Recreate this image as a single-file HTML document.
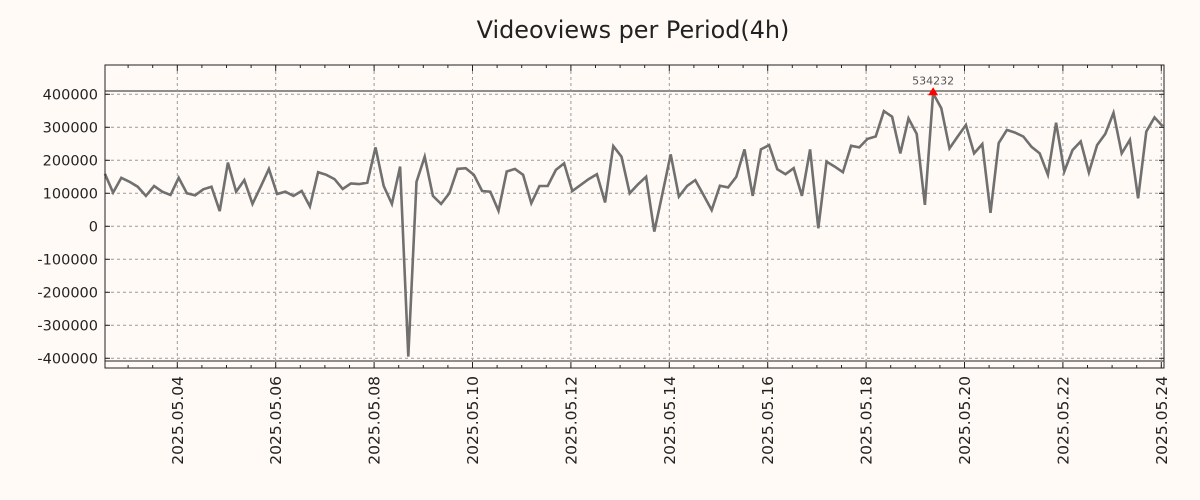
<!DOCTYPE html>
<html><head><meta charset="utf-8"><style>
html,body{margin:0;padding:0;background:#fffaf6;}
svg{display:block;font-family:"DejaVu Sans","Liberation Sans",sans-serif;}
</style></head><body>
<svg width="1200" height="500" xmlns="http://www.w3.org/2000/svg">
<rect width="1200" height="500" fill="#fffaf6"/>
<text x="633" y="38" font-size="23.9" text-anchor="middle" fill="#222">Videoviews per Period(4h)</text>
<g id="grid"></g>
<g id="axes"></g>
<g id="series"></g>
<rect x="105" y="65" width="1059" height="303" fill="none" stroke="#222" stroke-width="1"/>
</svg>
<script>
const values = [159,102,147,135,120,92,122,105,95,147,100,94,112,120,46,193,105,140,68,120,174,98,105,92,107,60,164,156,143,113,130,128,132,
239,122,68,181,-395,135,211,92,68,100,174,176,156,107,105,47,166,174,156,70,122,122,171,191,107,125,143,158,72,243,211,
100,127,150,-16,100,218,90,122,140,95,49,123,118,150,233,92,233,246,173,158,176,92,233,-6,196,181,164,244,239,265,272,349,
332,221,327,280,65,403,358,236,272,307,221,249,41,252,292,284,272,241,221,156,314,166,231,257,163,246,280,344,221,262,85,287,330,303];
const yTicks = [-400000,-300000,-200000,-100000,0,100000,200000,300000,400000];
const xTickLabels = ["2025.05.04","2025.05.06","2025.05.08","2025.05.10","2025.05.12","2025.05.14","2025.05.16","2025.05.18","2025.05.20","2025.05.22","2025.05.24"];
const xTickDays = [4,6,8,10,12,14,16,18,20,22,24];
const startHour = 60.7;
const stepHours = 4;
const peakLabel = "534232";
const refLines = [410000,-408000];

const NS="http://www.w3.org/2000/svg";
const L=105,R=1164,T=65,B=368;
function xScale(h){return 177.3+(h-96)*49.2/24;}
function yScale(v){return 226.3-v*33/100000;}
function mk(tag,attrs,parent){const e=document.createElementNS(NS,tag);for(const k in attrs)e.setAttribute(k,attrs[k]);parent.appendChild(e);return e;}
const grid=document.getElementById('grid'),axes=document.getElementById('axes'),series=document.getElementById('series');

yTicks.forEach(v=>{
  const y=yScale(v);
  const g=mk('line',{x1:L,x2:R,y1:y,y2:y,stroke:'#999','stroke-dasharray':'3,3','stroke-width':1},grid);
  
  
  const t1=mk('line',{x1:L,x2:L+5,y1:y,y2:y,stroke:'#222'},axes);
  
  
  const t2=mk('line',{x1:R-5,x2:R,y1:y,y2:y,stroke:'#222'},axes);
  
  
  const tx=mk('text',{x:98,y:y+5,'font-size':14.5,'text-anchor':'end',fill:'#222'},axes);
  tx.textContent=String(v);
  
  
});
refLines.forEach(v=>{
  const y=yScale(v);
  const l=mk('line',{x1:L,x2:R,y1:y,y2:y,stroke:'#222','stroke-width':1},grid);
  
  
});
for(let d=2.5;d<=24.2;d+=0.5){
  const x=xScale(d*24);
  if(x<L||x>R)continue;
  const major=xTickDays.includes(d);
  const len=major?6:3;
  const a=mk('line',{x1:x,x2:x,y1:B,y2:B-len,stroke:'#222'},axes);
  
  
  const b=mk('line',{x1:x,x2:x,y1:T,y2:T+len,stroke:'#222'},axes);
  
  
}
xTickDays.forEach((d,i)=>{
  const x=xScale(d*24);
  const g=mk('line',{x1:x,x2:x,y1:T,y2:B,stroke:'#999','stroke-dasharray':'3,3','stroke-width':1},grid);
  
  
  const t=mk('text',{x:0,y:0,'font-size':15.5,'text-anchor':'end',fill:'#222',transform:`translate(${x+5.5},376) rotate(-90)`},axes);
  t.textContent=xTickLabels[i];
  
  
});
const pts=values.map((v,i)=>[xScale(startHour+i*stepHours),yScale(v*1000)]);
const line=mk('polyline',{points:pts.map(p=>p[0].toFixed(1)+','+p[1].toFixed(1)).join(' '),fill:'none',stroke:'#707070','stroke-width':2.6,'stroke-linejoin':'miter'},series);


let mi=0;values.forEach((v,i)=>{if(v>values[mi])mi=i;});
const [px,py]=pts[mi];
const tri=mk('polygon',{points:`${px-5},${py+2} ${px+5},${py+2} ${px},${py-6}`,fill:'#f00'},series);


const pl=mk('text',{x:px,y:py-9,'font-size':11,'text-anchor':'middle',fill:'#555'},series);
pl.textContent=peakLabel;


</script>
</body></html>
